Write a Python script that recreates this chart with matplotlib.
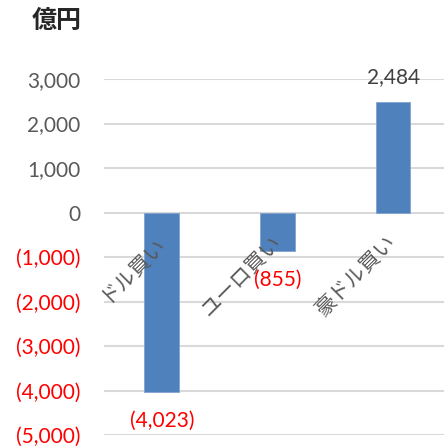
import matplotlib.pyplot as plt
import numpy as np

# data
categories = ["ドル買い", "ユーロ買い", "豪ドル買い"]
values = [-4023, -855, 2484]
yticks = [3000, 2000, 1000, 0, -1000, -2000, -3000, -4000, -5000]
unit_label = "億円"

FONT = ['Lato', 'Noto Sans CJK JP', 'DejaVu Sans']
plt.rcParams['font.family'] = FONT

BAR = "#4F81BD"
GRAY = "#595959"
RED = "#FF0000"


def fmt(v):
    return f"({abs(v):,})" if v < 0 else f"{v:,}"


fig = plt.figure(figsize=(4.44, 4.46), dpi=100)
ax = fig.add_axes([104 / 444, 11 / 446, 340 / 444, 356 / 446])

x = np.arange(len(categories))
ax.bar(x, values, width=0.30, color=BAR, edgecolor="#7fa3d0", linewidth=0.6, zorder=3)

ax.set_xlim(-0.5, 2.44)
ax.set_ylim(-5000, 3000)
ax.set_yticks(yticks)
ax.set_yticklabels([fmt(t) for t in yticks])
for lab, t in zip(ax.get_yticklabels(), yticks):
    lab.set_color(RED if t < 0 else GRAY)
ax.tick_params(axis='y', length=0, pad=17, labelsize=15)
ax.set_xticks([])
ax.grid(axis='y', color="#d9d9d9", linewidth=1.5, zorder=0)
for s in ax.spines.values():
    s.set_visible(False)

# category labels, rotated near the zero line
for xi, name in zip(x, categories):
    ax.annotate(name, xy=(xi, 0), xytext=(0, -19), textcoords='offset points',
                rotation=45, rotation_mode='anchor', ha='right', va='center',
                fontsize=15, color=GRAY, family=['Noto Sans CJK JP'])

# value labels
for xi, v in zip(x, values):
    off = 18 if v > 0 else -21
    ax.annotate(fmt(v), xy=(xi, v), xytext=(0, off), textcoords='offset points',
                ha='center', va='center', fontsize=15,
                color=RED if v < 0 else "#404040", annotation_clip=False)

fig.text(32 / 444, 1 - 21 / 446, unit_label, ha='left', va='center',
         fontsize=18, fontweight='bold', color="#262626", family=['Noto Sans CJK JP'])

fig.savefig("out.png", dpi=100)
